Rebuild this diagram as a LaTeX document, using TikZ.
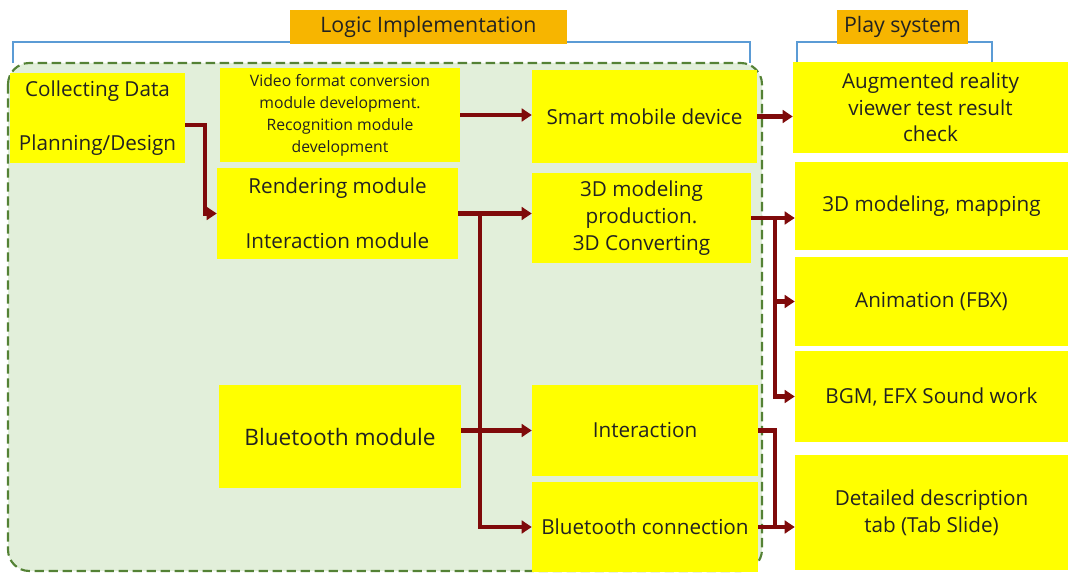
\documentclass[tikz,border=0pt]{standalone}
\usepackage{fontspec}
\setmainfont{Open Sans}
\usetikzlibrary{arrows.meta,fit,calc}
\definecolor{boxyellow}{HTML}{FFFF00}
\definecolor{tagorange}{HTML}{F7B500}
\definecolor{bracketblue}{HTML}{5B9BD5}
\definecolor{zonefill}{HTML}{E2EFDA}
\definecolor{zoneline}{HTML}{548235}
\definecolor{flowred}{HTML}{7F0A0A}
\definecolor{txt}{HTML}{222222}
\begin{document}
\begin{tikzpicture}[x=0.75pt,y=-0.75pt,
  box/.style={fill=boxyellow,inner sep=0pt},
  lbl/.style={align=center,text=txt,font=\fontsize{15.5}{20}\selectfont},
  smalllbl/.style={lbl,font=\fontsize{11.8}{16.5}\selectfont},
  biglbl/.style={lbl,font=\fontsize{17}{20}\selectfont},
  taglbl/.style={lbl,font=\fontsize{16}{18}\selectfont},
  tag/.style={fill=tagorange,inner sep=0pt},
  bracket/.style={draw=bracketblue,line width=2.2pt},
  zone/.style={draw=zoneline,fill=zonefill,line width=1.6pt,
    dash pattern=on 7pt off 3.5pt,rounded corners=16pt},
  flow/.style={draw=flowred,line width=3.2pt},
  arr/.style={flow,-{Triangle[length=7.5pt,width=9.5pt]}}]
\path[use as bounding box] (0,0) rectangle (1068,574);

% grouping zone and brackets
\path[zone] (8,63) rectangle (762,571);
\draw[bracket] (13,63) -- (13,42) -- (750,42) -- (750,63);
\draw[bracket] (797,62) -- (797,42) -- (992,42) -- (992,62);
\node[tag,fit={(290,10) (567,44)}] (logic) {};
\node[taglbl] at (logic.center) {Logic Implementation};
\node[tag,fit={(837,10) (968,44)}] (play) {};
\node[taglbl] at (play.center) {Play system};

% left column
\node[box,fit={(10,73) (185,163)}] (cd) {};
\node[lbl] at (cd.center) {Collecting Data\\[21pt]Planning/Design};

% middle column
\node[box,fit={(220,68) (460,162)}] (vid) {};
\node[smalllbl] at (vid.center) {Video format conversion\\module development.\\Recognition module\\development};
\node[box,fit={(217,168) (458,259)}] (rend) {};
\node[lbl] at (rend.center) {Rendering module\\[21pt]Interaction module};
\node[box,fit={(219,385) (461,488)}] (btm) {};
\node[biglbl] at (btm.center) {Bluetooth module};

% right column inside zone
\node[box,fit={(532,70) (757,163)}] (smart) {};
\node[lbl] at (smart.center) {Smart mobile device};
\node[box,fit={(532,173) (751,263)}] (mod) {};
\node[lbl] at (mod.center) {3D modeling\\production.\\3D Converting};
\node[box,fit={(532,385) (758,476)}] (inter) {};
\node[lbl] at (inter.center) {Interaction};
\node[box,fit={(532,482) (758,572)}] (btc) {};
\node[lbl] at (btc.center) {Bluetooth connection};

% play system column
\node[box,fit={(793,62) (1068,153)}] (ar) {};
\node[lbl] at (ar.center) {Augmented reality\\viewer test result\\check};
\node[box,fit={(795,162) (1068,250)}] (map) {};
\node[lbl] at (map.center) {3D modeling, mapping};
\node[box,fit={(795,257) (1068,346)}] (anim) {};
\node[lbl] at (anim.center) {Animation (FBX)};
\node[box,fit={(795,351) (1068,442)}] (bgm) {};
\node[lbl] at (bgm.center) {BGM, EFX Sound work};
\node[box,fit={(795,455) (1068,570)}] (det) {};
\node[lbl] at (det.center) {Detailed description\\tab (Tab Slide)};

% junction points
\coordinate (j1) at ($(rend.east)+(22,0)$);
\coordinate (j2) at ($(mod.east)+(24,0)$);
\coordinate (j3) at (j2 |- btc.east);

% connectors
\draw[arr] ([yshift=-5]cd.east) -- ++(20,0) |- (rend.west);
\draw[arr] (vid.east) -- (vid.east -| smart.west);
\draw[arr] (smart.east) -- (smart.east -| ar.west);
\draw[arr] (rend.east) -- (rend.east -| mod.west);
\draw[arr] (j1) |- (btc.west);
\draw[arr] (inter.west -| btm.east) -- (inter.west);
\draw[arr] (mod.east) -- (mod.east -| map.west);
\draw[arr] (j2) |- (anim.west);
\draw[arr] (j2) |- (bgm.west);
\draw[flow] (inter.east) -| (j3);
\draw[arr] (btc.east) -- (btc.east -| det.west);
\end{tikzpicture}
\end{document}
